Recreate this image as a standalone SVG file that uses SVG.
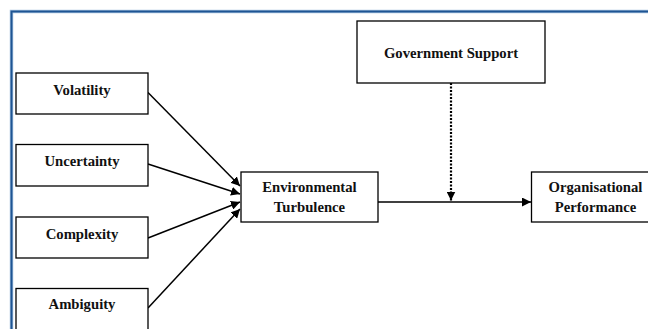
<svg xmlns="http://www.w3.org/2000/svg" width="648" height="329" viewBox="0 0 648 329">
<style>
.box{fill:#fff;stroke:#000;stroke-width:1.3}
.t{font-weight:bold;font-size:14.7px;fill:#111;text-anchor:middle}
.c{stroke:#000;stroke-width:1.5;fill:none}
.d{stroke:#000;stroke-width:2.2;fill:none;stroke-dasharray:2 1.5}
</style>
<defs>
<marker id="ah" viewBox="0 0 10 10" refX="10" refY="5" markerWidth="9" markerHeight="9" markerUnits="userSpaceOnUse" orient="auto">
<path d="M0,0 L10,5 L0,10 z" fill="#000"/>
</marker>
</defs>
<rect width="648" height="329" fill="#fff"/>
<g id="frame">
<path d="M11.5,329 V11.5 H648" fill="none" stroke="#a9c4e0" stroke-width="3.5"/>
<path d="M11.5,329 V11.5 H648" fill="none" stroke="#1f5593" stroke-width="2"/>
</g>
<g id="connectors">
<line class="c" x1="148" y1="92.5" x2="240" y2="186" marker-end="url(#ah)"/>
<line class="c" x1="148" y1="164" x2="240" y2="194" marker-end="url(#ah)"/>
<line class="c" x1="148" y1="238" x2="240" y2="202" marker-end="url(#ah)"/>
<line class="c" x1="148" y1="308" x2="240" y2="209" marker-end="url(#ah)"/>
<line class="c" x1="378" y1="202" x2="531" y2="202" marker-end="url(#ah)"/>
<line class="d" x1="451" y1="83" x2="451" y2="200.5" marker-end="url(#ah)"/>
</g>
<g font-family="'Liberation Serif', 'Times New Roman', 'DejaVu Serif', serif">
<g id="volatility"><rect class="box" x="16" y="73" width="132" height="41"/><text class="t" x="82" y="95">Volatility</text></g>
<g id="uncertainty"><rect class="box" x="16" y="144.5" width="132" height="41.5"/><text class="t" x="82" y="166">Uncertainty</text></g>
<g id="complexity"><rect class="box" x="16" y="217" width="132" height="41"/><text class="t" x="82" y="238.5">Complexity</text></g>
<g id="ambiguity"><rect class="box" x="16" y="288.5" width="132" height="50"/><text class="t" x="82" y="308.5">Ambiguity</text></g>
<g id="environmental-turbulence"><rect class="box" x="241" y="172" width="137" height="50"/><text class="t" x="309.5" y="192">Environmental</text><text class="t" x="309.5" y="212">Turbulence</text></g>
<g id="government-support"><rect class="box" x="357" y="21" width="188" height="62"/><text class="t" x="451" y="58">Government Support</text></g>
<g id="organisational-performance"><rect class="box" x="531.5" y="172" width="130" height="50"/><text class="t" x="595.5" y="192">Organisational</text><text class="t" x="595.5" y="212">Performance</text></g>
</g>
</svg>
